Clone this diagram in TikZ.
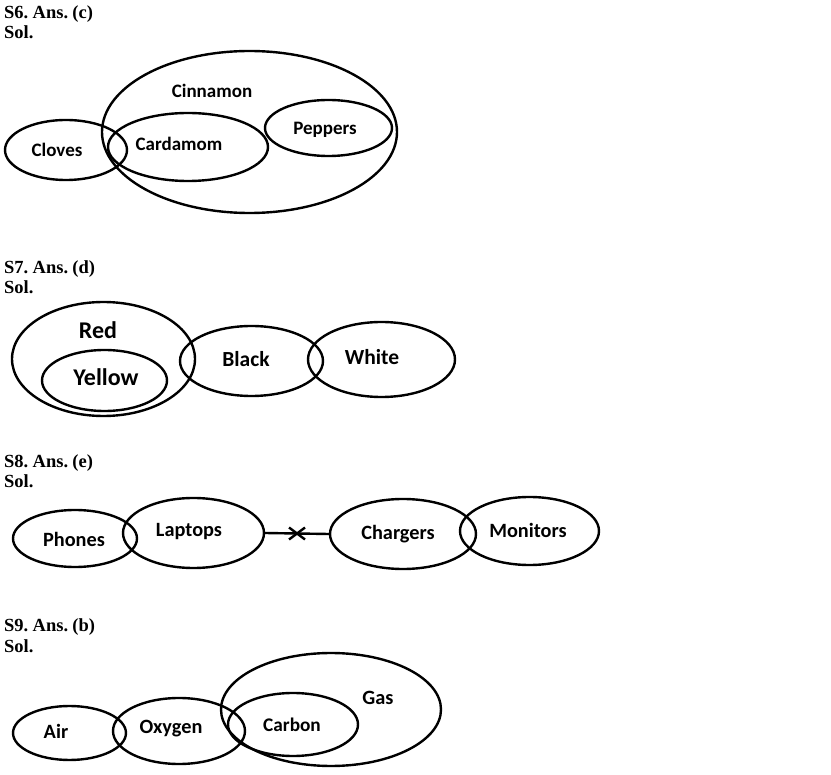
\documentclass[tikz,border=0pt]{standalone}
\usepackage{fontspec}
\setmainfont{Carlito}
\newfontfamily\headfont[WordSpace=0.6]{Liberation Serif}
\usetikzlibrary{shapes.geometric}
\tikzset{
  set/.style={draw, ellipse, line width=2.4pt, inner sep=0pt},
  lbl/.style={font=\bfseries\fontsize{#1}{#1}\selectfont, inner sep=0pt},
  lbl/.default=20.3,
  biglbl/.style={font=\bfseries\fontsize{24}{26}\selectfont, inner sep=0pt},
  head/.style={font=\headfont\bfseries\fontsize{18.5}{20}\selectfont, anchor=base west, inner sep=0pt},
  link/.style={line width=2.4pt},
}
\begin{document}
\begin{tikzpicture}[x=1pt,y=-1pt]
\useasboundingbox (0,0) rectangle (831,775);
% headers
\node[head] (h6) at (4,19) {S6. Ans. (c)};
\node[head] (s6) at (4,39) {Sol.};
\node[head] (h7) at (4,274) {S7. Ans. (d)};
\node[head] (s7) at (4,294) {Sol.};
\node[head] (h8) at (4,468) {S8. Ans. (e)};
\node[head] (s8) at (4,488) {Sol.};
\node[head] (h9) at (4,632) {S9. Ans. (b)};
\node[head] (s9) at (4,652) {Sol.};
% S6
\node[set, minimum width=295, minimum height=162] (cin) at (249.5,132) {};
\node[set, minimum width=122, minimum height=60] (clo) at (66,150) {};
\node[set, minimum width=160, minimum height=68] (car) at (188,147) {};
\node[set, minimum width=127, minimum height=56] (pep) at (328.5,128) {};
\node[lbl=19] (tcin) at (212,91) {Cinnamon};
\node[lbl=19] (tclo) at (57,150) {Cloves};
\node[lbl=19] (tcar) at (179,144) {Cardamom};
\node[lbl=19] (tpep) at (325,130) {Peppers};
% S7
\node[set, minimum width=183, minimum height=114] (red) at (103.5,359) {};
\node[set, minimum width=125, minimum height=61] (yel) at (104.5,380.5) {};
\node[set, minimum width=143, minimum height=70] (bla) at (251.5,361) {};
\node[set, minimum width=147, minimum height=75] (whi) at (381.5,359.5) {};
\node[biglbl] (tred) at (98,330) {Red};
\node[biglbl] (tyel) at (106,377) {Yellow};
\node[lbl=21.5] (tbla) at (246,359) {Black};
\node[lbl=21.5] (twhi) at (372,357) {White};
% S8
\node[set, minimum width=124, minimum height=57] (pho) at (75,538.5) {};
\node[set, minimum width=141, minimum height=70] (lap) at (193.5,533) {};
\node[set, minimum width=146, minimum height=70] (chg) at (403,534) {};
\node[set, minimum width=139, minimum height=68] (mon) at (529.5,531) {};
\node[lbl] (tpho) at (74,539) {Phones};
\node[lbl] (tlap) at (189,532) {Laptops};
\node[lbl] (tchg) at (398,534) {Chargers};
\node[lbl] (tmon) at (528,530) {Monitors};
\draw[link] (lap.east) -- (chg.west) coordinate[pos=0.5] (mid);
\draw[link] ([shift={(-8,-6)}]mid) -- ([shift={(8,6)}]mid);
\draw[link] ([shift={(-8,6)}]mid) -- ([shift={(8,-6)}]mid);
% S9
\node[set, minimum width=113, minimum height=54] (air) at (69.5,733) {};
\node[set, minimum width=132, minimum height=66] (oxy) at (179,731) {};
\node[set, minimum width=220, minimum height=113] (gas) at (331,709.5) {};
\node[set, minimum width=130, minimum height=63] (cbn) at (293,724.5) {};
\node[lbl] (tair) at (56,731) {Air};
\node[lbl] (toxy) at (171,729) {Oxygen};
\node[lbl=19.3] (tcbn) at (292,725) {Carbon};
\node[lbl] (tgas) at (378,698) {Gas};
\end{tikzpicture}
\end{document}
